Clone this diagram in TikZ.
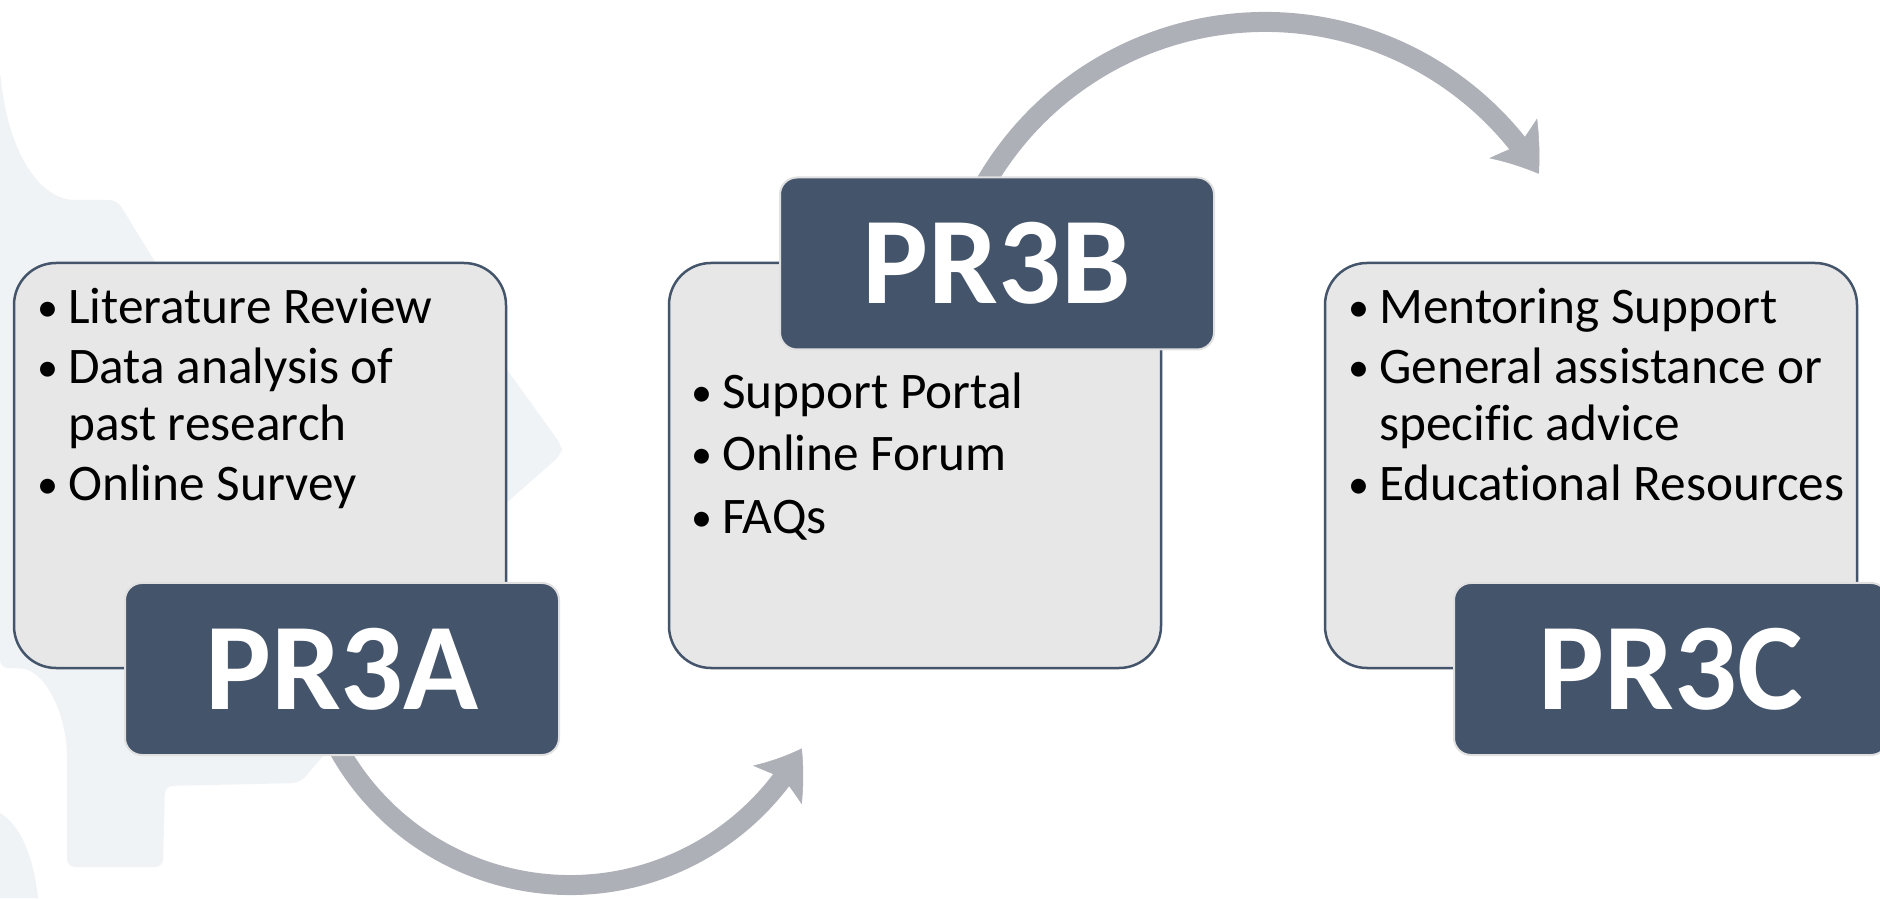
\documentclass[tikz,border=0pt]{standalone}
\usepackage{fontspec}
\setmainfont{Carlito}[Ligatures=NoCommon]
\usetikzlibrary{arrows.meta,bending,calc}
\definecolor{dark}{HTML}{44546A}
\definecolor{boxfill}{HTML}{E7E7E7}
\definecolor{arrowgray}{HTML}{ADB0B7}
\definecolor{gearcol}{HTML}{F0F3F6}
\newcommand{\bul}{\makebox[31pt][l]{\raisebox{2.5pt}{\scalebox{0.82}{•}}}}
\begin{document}
\begin{tikzpicture}[x=1pt,y=1pt,
  infobox/.style={draw=dark, line width=2.5pt, fill=boxfill, rounded corners=42pt, minimum width=492pt, minimum height=405pt, inner sep=0pt},
  tag/.style={draw=white!88!black, line width=2pt, fill=dark, rounded corners=17pt, minimum width=434pt, minimum height=172pt, inner sep=0pt, text=white, font=\fontsize{124}{124}\selectfont\bfseries},
  item/.style={anchor=base west, inner sep=0pt, font=\fontsize{51.3}{60}\selectfont, text=black},
  flow/.style={draw=arrowgray, line width=20pt, -{Stealth[length=44pt,width=62pt,inset=9pt,line width=0.5pt,bend]}}
]
\fill[white] (0,0) rectangle (1880,898);
\useasboundingbox (0,0) rectangle (1880,898);
% faint background gear (mostly hidden behind the first box)
\fill[gearcol, rounded corners=8pt] (0,828) .. controls (8,745) and (40,698) .. (83,698)
  -- (117,698) -- (165,620) -- (480,620) -- (495,545) -- (562,452) -- (562,444) -- (495,385)
  -- (480,240) -- (330,150) -- (300,115) -- (165,112) -- (163,31)
  -- (67,31) -- (67,150) .. controls (60,200) and (40,228) .. (14,230) -- (0,230) -- cycle;
\fill[gearcol] (0,0) -- (0,85) .. controls (25,70) and (35,30) .. (38,0) -- cycle;
% content boxes
\node[infobox] (boxA) at (260,432.5) {};
\node[infobox] (boxB) at (915,432.5) {};
\node[infobox, minimum width=532pt] (boxC) at (1591,432.5) {};
% arrows
\coordinate (cl) at (570,278);
\coordinate (cu) at (1265,553);
\coordinate (l0) at ($(cl)+(208:265)$);
\coordinate (u0) at ($(cu)+(152:323)$);
\draw[flow] (l0) arc[start angle=208, end angle=331, radius=265];
\draw[flow] (u0) arc[start angle=152, end angle=32, radius=323];
% tags
\node[tag] (tagA) at (342,229) {PR3A};
\node[tag] (tagB) at (997,634.5) {PR3B};
\node[tag] (tagC) at (1671,229) {PR3C};
% items A
\node[item] (a1) at (37,574) {\bul Literature Review};
\node[item] (a2) at (37,514) {\bul Data analysis of};
\node[item] (a3) at (68,457) {past research};
\node[item] (a4) at (37,397) {\bul Online Survey};
% items B
\node[item] (b1) at (691,489) {\bul Support Portal};
\node[item] (b2) at (691,427) {\bul Online Forum};
\node[item] (b3) at (691,364) {\bul FAQs};
% items C
\node[item] (c1) at (1348,574) {\bul Mentoring Support};
\node[item] (c2) at (1348,514) {\bul General assistance or};
\node[item] (c3) at (1379,457) {specific advice};
\node[item] (c4) at (1348,397) {\bul Educational Resources};
\end{tikzpicture}
\end{document}
